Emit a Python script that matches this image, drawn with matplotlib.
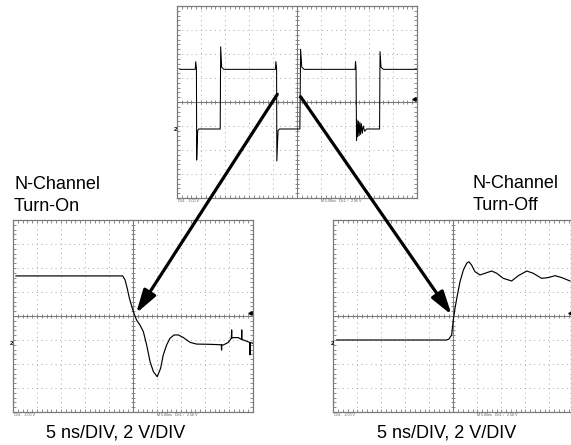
import numpy as np
import matplotlib.pyplot as plt
from matplotlib.patches import ConnectionPatch

plt.rcParams['font.family'] = ['Liberation Sans', 'DejaVu Sans']

top_t = [0.12, 0.76, 0.78, 0.81, 0.82, 0.86, 0.9, 1.8, 1.82, 1.86, 1.95,
         4.1, 4.12, 4.15, 4.16, 4.21, 4.27, 5.12, 5.15, 5.2, 5.3,
         7.42, 7.44, 7.46, 7.48, 7.5, 7.53, 7.56, 7.59, 7.62, 7.65, 7.68,
         7.72, 7.76, 7.82, 7.9, 8.44, 8.46, 8.5, 8.6, 10.0]
top_v = [1.36, 1.36, 1.68, 1.4, -2.42, -1.2, -1.125, -1.125, 2.3, 1.45, 1.36,
         1.36, 1.68, 1.4, -2.46, -1.2, -1.125, -1.125, 2.2, 1.45, 1.36,
         1.36, 1.68, 1.4, -1.6, -0.75, -1.45, -0.8, -1.4, -0.85, -1.35, -0.9,
         -1.3, -1.0, -1.22, -1.125, -1.125, 2.1, 1.45, 1.36, 1.36]

on_t = [0.12, 4.57, 4.67, 4.76, 4.85, 4.95, 5.04, 5.15, 5.29, 5.43, 5.57,
        5.71, 5.85, 6.01, 6.15, 6.26, 6.4, 6.54, 6.71, 6.89, 7.1, 7.38,
        7.65, 8.21, 8.68, 8.69, 8.7, 8.76, 8.97, 9.1, 9.11, 9.12, 9.18,
        9.39, 9.52, 9.53, 9.54, 9.6, 9.86, 9.875, 9.89, 10.0]
on_v = [1.67, 1.67, 1.5, 1.15, 0.74, 0.39, 0.11, -0.17, -0.375, -0.65, -1.21,
        -1.9, -2.32, -2.53, -2.18, -1.625, -1.21, -0.93, -0.79, -0.79, -0.9, -1.1,
        -1.17, -1.18, -1.2, -1.42, -1.2, -1.21, -1.1, -0.92, -0.58, -0.92, -0.9,
        -0.9, -0.98, -0.58, -0.98, -1.0, -1.1, -1.62, -1.1, -1.14]

off_t = [0.14, 4.72, 4.82, 4.93, 5.0, 5.07, 5.17, 5.28, 5.42, 5.56, 5.65,
         5.76, 5.9, 6.11, 6.32, 6.6, 6.81, 7.08, 7.43, 7.71, 8.06, 8.33,
         8.68, 8.96, 9.24, 9.52, 9.86]
off_v = [-1.0, -1.0, -0.96, -0.79, -0.17, 0.32, 0.875, 1.43, 1.92, 2.2, 2.26,
         2.125, 1.85, 1.71, 1.78, 1.875, 1.78, 1.57, 1.46, 1.68, 1.875, 1.78,
         1.57, 1.6, 1.68, 1.6, 1.46]

lbl_on = ['N-Channel', 'Turn-On']
lbl_off = ['N-Channel', 'Turn-Off']
scale_txt = '5 ns/DIV, 2 V/DIV'

W, H = 571, 445
fig = plt.figure(figsize=(W / 100, H / 100), dpi=100)

grid_c = '#a8a8a8'
frame_c = '#7a7a7a'


def screen(x0, y0):
    # x0, y0 = top left corner of the graticule in pixels, 24 px per division
    ax = fig.add_axes([x0 / W, 1 - (y0 + 192) / H, 240 / W, 192 / H])
    ax.set_xlim(0, 10)
    ax.set_ylim(-4, 4)
    for sp in ax.spines.values():
        sp.set_color(frame_c)
        sp.set_linewidth(0.9)
    ax.set_xticks(np.arange(0, 10.01, 0.2))
    ax.set_yticks(np.arange(-4, 4.01, 0.2))
    ax.tick_params(direction='in', length=2, width=0.6, color=frame_c,
                   labelbottom=False, labelleft=False, top=True, right=True)
    for i in range(1, 10):
        if i != 5:
            ax.axvline(i, color=grid_c, lw=0.7, ls=(0, (1, 3.8)))
    for j in range(-3, 4):
        if j != 0:
            ax.axhline(j, color=grid_c, lw=0.7, ls=(0, (1, 3.8)))
    ax.axvline(5, color=frame_c, lw=0.8)
    ax.axhline(0, color=frame_c, lw=0.8)
    tk = np.arange(0.2, 10, 0.2)
    ax.plot(tk, np.zeros_like(tk), ls='none', marker='|', ms=3.2, mew=0.6, color=frame_c)
    tk = np.arange(-3.8, 4, 0.2)
    ax.plot(np.full_like(tk, 5), tk, ls='none', marker='_', ms=3.2, mew=0.6, color=frame_c)
    # channel / trigger markers and the tiny status line
    ax.text(-0.05, -1.16, '2', fontsize=4.5, fontweight='bold', ha='center', va='center', clip_on=False)
    ax.plot([9.86], [0.14], marker='<', ms=2.5, color='black', clip_on=False)
    ax.text(0.05, -4.06, 'Ch1    2.00 V', fontsize=2.6, color='#555555', va='top')
    ax.text(6.0, -4.06, 'M 5.00ns   Ch1  \u2215   2.56 V', fontsize=2.6, color='#555555', va='top')
    return ax


ax_top = screen(177, 6)
ax_top.plot(top_t, top_v, color='black', lw=0.75)

ax_on = screen(13, 220)
ax_on.plot(on_t, on_v, color='black', lw=0.85)

ax_off = screen(333.3, 220)
ax_off.plot(off_t, off_v, color='black', lw=0.85)

# arrows from the full cycle down to the zoomed edges
for xa, xb, axb in [((4.18, 0.32), (5.13, 0.11), ax_on), ((5.15, 0.22), (4.93, 0.05), ax_off)]:
    con = ConnectionPatch(xyA=xa, coordsA='data', axesA=ax_top,
                          xyB=xb, coordsB='data', axesB=axb,
                          arrowstyle='-|>,head_length=1.4,head_width=0.42',
                          mutation_scale=10, lw=2.3, color='black', shrinkA=0, shrinkB=0)
    con.set_zorder(5)
    fig.add_artist(con)

fs = 13
fig.text(14 / W, 1 - 189 / H, lbl_on[0], fontsize=fs, va='baseline')
fig.text(14 / W, 1 - 211 / H, lbl_on[1], fontsize=fs, va='baseline')
fig.text(472.5 / W, 1 - 188 / H, lbl_off[0], fontsize=fs, va='baseline')
fig.text(472.5 / W, 1 - 210 / H, lbl_off[1], fontsize=fs, va='baseline')
fig.text(116 / W, 1 - 437.5 / H, scale_txt, fontsize=fs, ha='center', va='baseline')
fig.text(447 / W, 1 - 437.5 / H, scale_txt, fontsize=fs, ha='center', va='baseline')

fig.savefig('out.png', dpi=100)
